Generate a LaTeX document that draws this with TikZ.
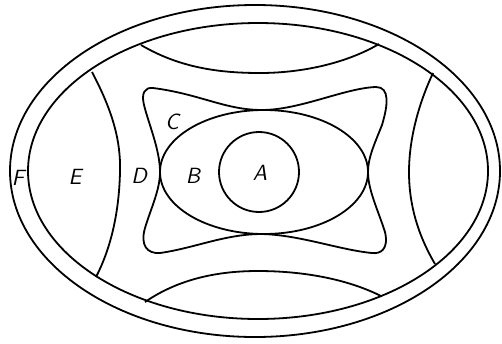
\documentclass[tikz,border=0pt]{standalone}
\usepackage{tikz}

\begin{document}
\begin{tikzpicture}[
  x=0.5pt, y=-0.5pt,
  rim/.style={draw, line width=0.9pt},
  lbl/.style={font=\fontsize{11}{13}\selectfont\sffamily\itshape, inner sep=0pt}
]
\useasboundingbox (0,0) rectangle (502,343);

% outer ring
\draw[rim] (255,171) ellipse [x radius=245, y radius=166];
\draw[rim] (258,171) ellipse [x radius=230, y radius=148];

% side arcs
\draw[rim] (92,72) .. controls (112,110) and (121,140) .. (120,172)
  .. controls (119,215) and (110,250) .. (96,277);
\draw[rim] (433,73) .. controls (418,105) and (409,140) .. (409,172)
  .. controls (409,205) and (418,235) .. (435,264);

% top and bottom arcs
\draw[rim] (141,45) .. controls (180,68) and (220,73) .. (260,73)
  .. controls (300,73) and (345,64) .. (379,44);
\draw[rim] (145,302) .. controls (180,278) and (220,271) .. (258,271)
  .. controls (300,271) and (345,278) .. (381,296);

% region C
\draw[rim] (153,88) .. controls (200,94) and (225,110) .. (262,110)
  .. controls (300,110) and (345,88) .. (376,87)
  .. controls (390,87) and (388,105) .. (382,125)
  .. controls (374,145) and (368,158) .. (368,172)
  .. controls (368,190) and (378,210) .. (385,232)
  .. controls (389,250) and (380,254) .. (372,253)
  .. controls (340,250) and (300,235) .. (262,234)
  .. controls (225,234) and (195,248) .. (160,253)
  .. controls (147,254) and (140,245) .. (145,228)
  .. controls (151,208) and (160,190) .. (160,172)
  .. controls (160,150) and (149,125) .. (144,105)
  .. controls (141,93) and (145,87) .. (153,88);

% region B and A
\draw[rim] (264,172) ellipse [x radius=104, y radius=62];
\draw[rim] (259,172) circle [radius=40];

% labels
\node[lbl] (labA) at (260,173) {A};
\node[lbl] (labB) at (193,176) {B};
\node[lbl] (labC) at (172,122) {C};
\node[lbl] (labD) at (139,176) {D};
\node[lbl] (labE) at (75,177) {E};
\node[lbl] (labF) at (18,178) {F};
\end{tikzpicture}
\end{document}
